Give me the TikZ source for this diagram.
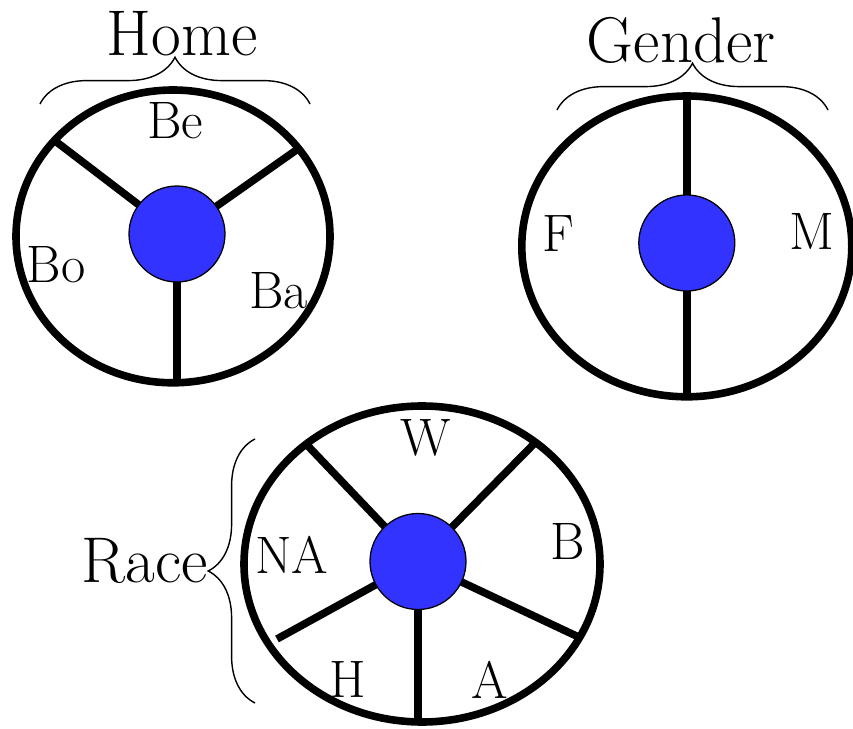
\documentclass[tikz,border=0pt]{standalone}
\usetikzlibrary{shapes.geometric,decorations.pathreplacing}
\definecolor{hubblue}{RGB}{51,51,255}

\begin{document}
\begin{tikzpicture}[
  wheel/.style={draw, ellipse, line width=5.4pt, inner sep=0pt, outer sep=0pt},
  hub/.style={draw, circle, fill=hubblue, line width=0.9pt, minimum size=2.4cm, inner sep=0pt, outer sep=0pt},
  spoke/.style={line width=5.4pt},
  lbl/.style={font=\fontsize{37.5}{42}\selectfont, inner sep=0pt},
  ttl/.style={font=\fontsize{46}{52}\selectfont, inner sep=0pt},
  grp/.style={decorate, decoration={brace, amplitude=1.17cm}, line width=1pt},
]
  \useasboundingbox (0,0) rectangle (21.325,18.2);

  % Home
  \node[wheel, minimum width=7.85cm, minimum height=7.32cm] (home) at (4.325,12.29) {};
  \node[hub] (homehub) at (4.425,12.35) {};
  \draw[spoke] (homehub) -- (home.141.8);
  \draw[spoke] (homehub) -- (home.35.6);
  \draw[spoke] (homehub) -- (homehub.south |- home.south);
  \node[lbl] (be) at (4.375,15.175) {Be};
  \node[lbl] (bo) at (1.40,11.59) {Bo};
  \node[lbl] (ba) at (6.96,10.94) {Ba};
  \draw[grp] (1.00,15.60) -- (7.75,15.60);
  \node[ttl] (hometitle) at (4.55,17.35) {Home};

  % Gender
  \node[wheel, minimum width=8.25cm, minimum height=7.52cm] (gender) at (17.17,12.04) {};
  \node[hub] (genderhub) at (17.17,12.125) {};
  \draw[spoke] (genderhub.north) -- (gender.north);
  \draw[spoke] (genderhub.south) -- (gender.south);
  \node[lbl] (f) at (13.96,12.36) {F};
  \node[lbl] (m) at (20.29,12.41) {M};
  \draw[grp] (13.925,15.45) -- (20.70,15.45);
  \node[ttl] (gendertitle) at (17.03,17.20) {Gender};

  % Race
  \node[wheel, minimum width=8.90cm, minimum height=7.90cm] (race) at (10.55,4.10) {};
  \node[hub] (racehub) at (10.45,4.1625) {};
  \coordinate (hend) at (6.925,2.225);
  \coordinate (bend) at (10.45,0.25);
  \draw[spoke] (racehub) -- (race.134.8);
  \draw[spoke] (racehub) -- (race.47.6);
  \draw[spoke] (racehub) -- (race.335.2);
  \draw[spoke] (racehub) -- (hend);
  \draw[spoke] (racehub.south) -- (bend);
  \node[lbl] (w) at (10.65,7.24) {W};
  \node[lbl] (b) at (14.20,4.66) {B};
  \node[lbl] (na) at (7.29,4.33) {NA};
  \node[lbl] (h) at (8.69,1.21) {H};
  \node[lbl] (a) at (12.24,1.21) {A};
  \draw[grp] (6.375,0.625) -- (6.375,7.225);
  \node[ttl] (racetitle) at (3.625,4.175) {Race};
\end{tikzpicture}
\end{document}
